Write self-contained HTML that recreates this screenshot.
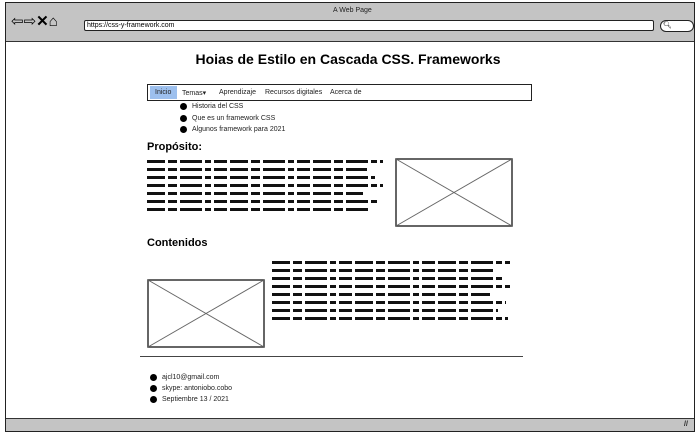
<!DOCTYPE html>
<html><head><meta charset="utf-8"><style>
body{margin:0;width:700px;height:436px;background:#fff;position:relative;overflow:hidden;font-family:"Liberation Sans",sans-serif;}
.a{position:absolute;}
.scr{position:absolute;height:3px;background:repeating-linear-gradient(90deg,#111 0 18px,#fff 18px 21px,#111 21px 30px,#fff 30px 33px,#111 33px 55px,#fff 55px 58px,#111 58px 64px,#fff 64px 67px,#111 67px 80px,#fff 80px 83px);}
.dot{position:absolute;width:7px;height:7px;border-radius:50%;background:#000;}
.t{position:absolute;font-size:7px;color:#222;white-space:nowrap;}
</style></head><body>
<div class="a" style="left:5px;top:2px;width:688px;height:428px;border:1.5px solid #222;background:#c4c4c4;"></div>
<div class="a" style="left:6px;top:41px;width:688px;height:376px;background:#fff;border-top:1px solid #333;border-bottom:1px solid #333;"></div>
<div class="t" style="left:333px;top:7px;font-size:7px;">A Web Page</div>
<div class="a" style="left:11px;top:14px;font-size:15px;line-height:16px;">⇦⇨<b>✕</b>⌂</div>
<div class="a" style="left:84px;top:20px;width:566px;height:9px;border:1px solid #222;border-radius:2px;background:#fff;font-size:7px;line-height:9px;padding-left:2px;">https://css-y-framework.com</div>
<div class="a" style="left:660px;top:20px;width:30px;height:10px;border:1px solid #222;border-radius:6px;background:#fff;font-size:7px;line-height:10px;padding-left:2px;">🔍︎</div>
<div class="a" style="left:0;top:51px;width:696px;text-align:center;font-size:14px;font-weight:bold;">Hoias de Estilo en Cascada CSS. Frameworks</div>
<div class="a" style="left:147px;top:84px;width:383px;height:15px;border:1.5px solid #222;"></div>
<div class="a" style="left:150px;top:86px;width:27px;height:13px;background:#9dc0ee;"></div>
<div class="t" style="left:155px;top:89px;">Inicio</div>
<div class="t" style="left:182px;top:89px;">Temas▾</div>
<div class="t" style="left:219px;top:89px;">Aprendizaje</div>
<div class="t" style="left:265px;top:89px;">Recursos digitales</div>
<div class="t" style="left:330px;top:89px;">Acerca de</div>
<div class="dot" style="left:180px;top:103px;"></div><div class="t" style="left:192px;top:103px;">Historia del CSS</div>
<div class="dot" style="left:180px;top:115px;"></div><div class="t" style="left:192px;top:115px;">Que es un framework CSS</div>
<div class="dot" style="left:180px;top:126px;"></div><div class="t" style="left:192px;top:126px;">Algunos framework para 2021</div>
<div class="a" style="left:147px;top:141px;font-size:11px;font-weight:bold;">Propósito:</div>
<div class="scr" style="left:147px;top:160px;width:236px;"></div>
<div class="scr" style="left:147px;top:168px;width:220px;"></div>
<div class="scr" style="left:147px;top:176px;width:228px;"></div>
<div class="scr" style="left:147px;top:184px;width:236px;"></div>
<div class="scr" style="left:147px;top:192px;width:216px;"></div>
<div class="scr" style="left:147px;top:200px;width:232px;"></div>
<div class="scr" style="left:147px;top:208px;width:222px;"></div>
<svg class="a" style="left:395px;top:158px" width="118" height="69"><rect x="1" y="1" width="116" height="67" fill="#fff" stroke="#333" stroke-width="1.5"/><line x1="1" y1="1" x2="117" y2="68" stroke="#666"/><line x1="117" y1="1" x2="1" y2="68" stroke="#666"/></svg>
<div class="a" style="left:147px;top:237px;font-size:11px;font-weight:bold;">Contenidos</div>
<div class="scr" style="left:272px;top:261px;width:238px;"></div>
<div class="scr" style="left:272px;top:269px;width:222px;"></div>
<div class="scr" style="left:272px;top:277px;width:230px;"></div>
<div class="scr" style="left:272px;top:285px;width:238px;"></div>
<div class="scr" style="left:272px;top:293px;width:218px;"></div>
<div class="scr" style="left:272px;top:301px;width:234px;"></div>
<div class="scr" style="left:272px;top:309px;width:226px;"></div>
<div class="scr" style="left:272px;top:317px;width:236px;"></div>
<svg class="a" style="left:147px;top:279px" width="118" height="69"><rect x="1" y="1" width="116" height="67" fill="#fff" stroke="#333" stroke-width="1.5"/><line x1="1" y1="1" x2="117" y2="68" stroke="#666"/><line x1="117" y1="1" x2="1" y2="68" stroke="#666"/></svg>
<div class="a" style="left:140px;top:356px;width:383px;height:1px;background:#444;"></div>
<div class="dot" style="left:150px;top:374px;"></div><div class="t" style="left:162px;top:374px;">ajcl10@gmail.com</div>
<div class="dot" style="left:150px;top:385px;"></div><div class="t" style="left:162px;top:385px;">skype: antoniobo.cobo</div>
<div class="dot" style="left:150px;top:396px;"></div><div class="t" style="left:162px;top:396px;">Septiembre 13 / 2021</div>
<div class="t" style="left:684px;top:421px;font-weight:bold;">//</div>
</body></html>
